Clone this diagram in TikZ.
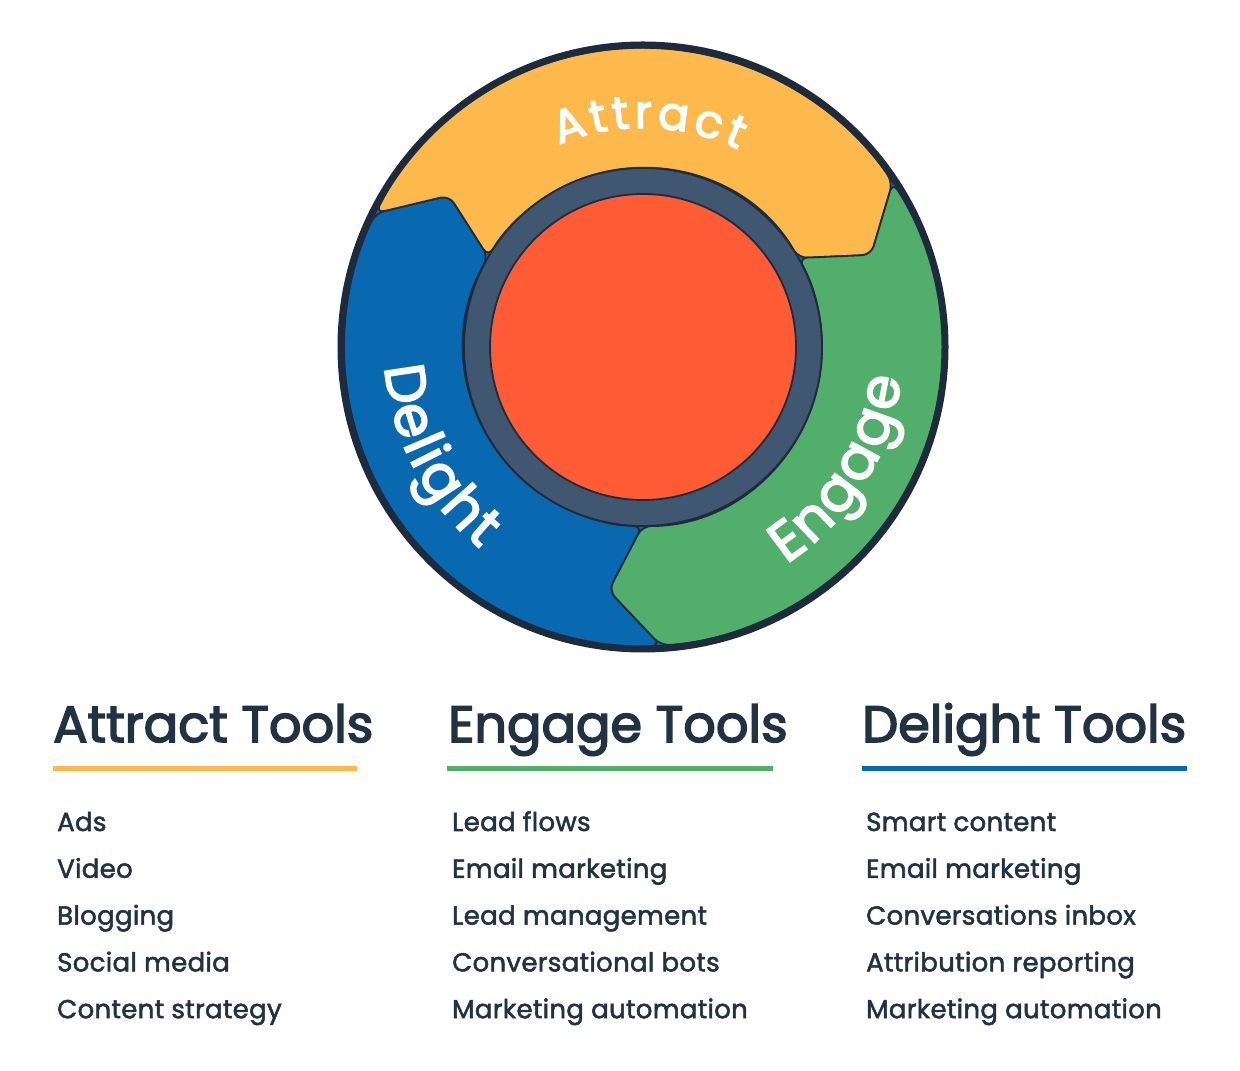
\documentclass[tikz,border=0pt]{standalone}
\usepackage{fontspec}
\setmainfont{Poppins}
\newfontfamily\titlefont[FakeBold=3]{Poppins}
\newfontfamily\itemfont[FakeBold=2,LetterSpace=1.2]{Poppins}
\newfontfamily\arcfont[FakeBold=3]{Poppins}
\usetikzlibrary{decorations.text}
\definecolor{yel}{HTML}{FDB94B}
\definecolor{grn}{HTML}{52AE6B}
\definecolor{blu}{HTML}{0868B0}
\definecolor{ringc}{HTML}{405772}
\definecolor{orng}{HTML}{FF5C35}
\definecolor{outl}{HTML}{1E2B3C}
\definecolor{navy}{HTML}{213343}
\tikzset{
  seg/.style={draw=outl, line width=1.8pt, rounded corners=9pt},
  arctext/.style={decorate, decoration={text along path, text align=center, text color=white, text={#1}}},
  ttl/.style={anchor=base west, inner sep=0pt, text=navy, font=\titlefont\fontsize{51pt}{60pt}\selectfont},
  itm/.style={anchor=base west, inner sep=0pt, text=navy, font=\itemfont\fontsize{26pt}{30pt}\selectfont},
  uline/.style={line width=5pt}
}
\begin{document}
\begin{tikzpicture}[x=1pt,y=1pt]
\useasboundingbox (0,0) rectangle (1240,1071);
\fill[white] (0,0) rectangle (1240,1071);
\begin{scope}[shift={(643,724)}]
  \fill[blu] (0,0) circle (300);
  % Blue (Delight)
  \path[seg, fill=blu] (273.4:299) arc[start angle=273.4, end angle=153.4, radius=299]
     -- (142:246) -- (149.8:179) arc[start angle=149.8, end angle=269.8, radius=179]
     -- (262:246) -- cycle;
  % Yellow (Attract)
  \path[seg, fill=yel] (153.4:299) arc[start angle=153.4, end angle=33.4, radius=299]
     -- (22:246) -- (29.8:179) arc[start angle=29.8, end angle=149.8, radius=179]
     -- (142:246) -- cycle;
  % Green (Engage)
  \path[seg, fill=grn] (33.4:299) arc[start angle=33.4, end angle=-86.6, radius=299]
     -- (-98:246) -- (-90.2:179) arc[start angle=-90.2, end angle=29.8, radius=179]
     -- (22:246) -- cycle;
  % ring and centre
  \draw[ringc, line width=26pt] (0,0) circle (166);
  \draw[outl, line width=1.8pt] (0,0) circle (179);
  \fill[orng, draw=outl, line width=1.8pt] (0,0) circle (153);
  % outer border
  \draw[outl, line width=7pt] (0,0) circle (302);
  % curved labels
  \path[arctext={|\arcfont\fontsize{46pt}{50pt}\selectfont\kern4.5pt|Attract}]
     (149:219) arc[start angle=149, end angle=29, radius=219];
  \path[arctext={|\arcfont\fontsize{56pt}{60pt}\selectfont\kern2.5pt|Delight}]
     (157.5:259) arc[start angle=157.5, end angle=257.5, radius=259];
  \path[arctext={|\arcfont\fontsize{56pt}{60pt}\selectfont\kern2.5pt|Engage}]
     (-82:260) arc[start angle=-82, end angle=18, radius=260];
\end{scope}
% Titles
\node[ttl] (ta) at (53,329) {Attract Tools};
\node[ttl] (te) at (448,329) {Engage Tools};
\node[ttl] (td) at (862,329) {Delight Tools};
\draw[yel, uline] (53,302) -- (357,302);
\draw[grn, uline] (447,302) -- (773,302);
\draw[blu, uline] (862,302) -- (1187,302);
% Items
\foreach \t [count=\i] in {Ads, Video, Blogging, Social media, Content strategy}
  \node[itm] (a\i) at (57,{240-46.8*(\i-1)}) {\t};
\foreach \t [count=\i] in {Lead flows, Email marketing, Lead management, Conversational bots, Marketing automation}
  \node[itm] (e\i) at (452,{240-46.8*(\i-1)}) {\t};
\foreach \t [count=\i] in {Smart content, Email marketing, Conversations inbox, Attribution reporting, Marketing automation}
  \node[itm] (d\i) at (866,{240-46.8*(\i-1)}) {\t};
\end{tikzpicture}
\end{document}
